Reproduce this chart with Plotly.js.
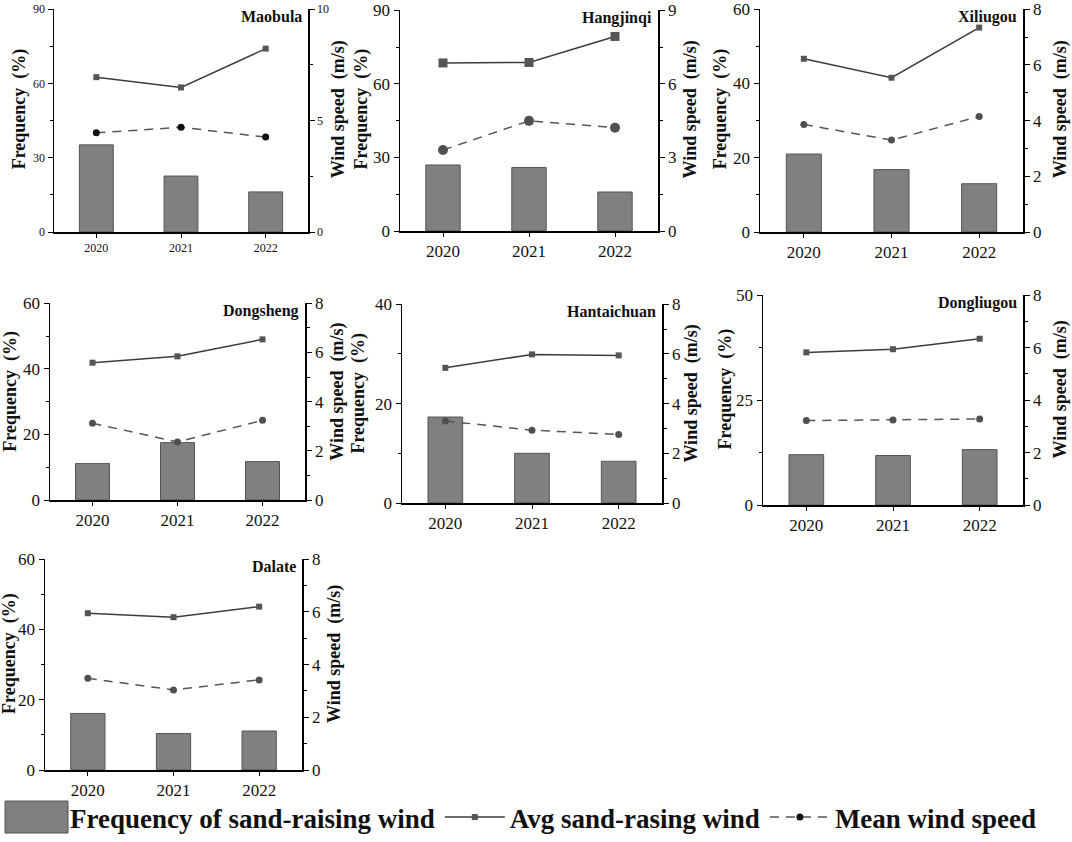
<!DOCTYPE html>
<html>
<head>
<meta charset="utf-8">
<script src="https://cdn.plot.ly/plotly-3.0.1.min.js"></script>
<style>
html,body{margin:0;padding:0;background:#fff;}
#chart{width:1072px;height:842px;}
</style>
</head>
<body>
<div id="chart"></div>
<script>
// ---------------- data ----------------
const years = ['2020', '2021', '2022'];
const stations = ['Maobula', 'Hangjinqi', 'Xiliugou', 'Dongsheng', 'Hantaichuan', 'Dongliugou', 'Dalate'];

// Frequency of sand-raising wind (%)
const frequency = [
  [35.2, 22.6, 16.2],
  [26.9, 25.9, 15.9],
  [21.0, 16.8, 13.0],
  [11.1, 17.5, 11.7],
  [17.3, 10.0, 8.4],
  [12.0, 11.8, 13.2],
  [16.1, 10.4, 11.1]
];
// Avg sand-raising wind speed (m/s)
const avgSandWind = [
  [6.95, 6.49, 8.23],
  [6.85, 6.87, 7.93],
  [6.22, 5.54, 7.34],
  [5.58, 5.84, 6.53],
  [5.44, 5.98, 5.94],
  [5.82, 5.94, 6.34],
  [5.95, 5.80, 6.20]
];
// Mean wind speed (m/s)
const meanWind = [
  [4.45, 4.70, 4.26],
  [3.30, 4.49, 4.21],
  [3.86, 3.30, 4.15],
  [3.12, 2.36, 3.24],
  [3.30, 2.93, 2.76],
  [3.22, 3.24, 3.28],
  [3.48, 3.04, 3.42]
];
// axis scales per station
const freqMax = [90, 90, 60, 60, 40, 50, 60];
const freqStep = [30, 30, 20, 20, 20, 25, 20];
const windMax = [10, 9, 8, 8, 8, 8, 8];
const windStep = [5, 3, 2, 2, 2, 2, 2];

const legendNames = ['Frequency of sand-raising wind', 'Avg sand-rasing wind', 'Mean wind speed'];
const leftTitle = 'Frequency\u2002(%)';
const rightTitle = 'Wind speed\u2002(m/s)';

// ---------------- layout geometry (pixels) ----------------
const W = 1072, H = 842;
const boxes = [
  [54, 308, 9, 232],
  [400, 658, 10, 231],
  [760, 1023, 9, 232],
  [50, 305, 303, 500],
  [402, 662, 304, 503],
  [763, 1023, 295, 505],
  [45, 302, 559, 770]
];
const leftTitleX = [19, 361, 720, 11, 359, 725, 10];
const rightTitleX = [338, 690, 1060, 338, 692, 1060, 335];
const tickSize = [12, 17, 17, 17, 17, 17, 17];

const FONT = 'Liberation Serif';
const traces = [];
const layout = {
  width: W, height: H,
  margin: {l: 0, r: 0, t: 0, b: 0},
  paper_bgcolor: '#fff', plot_bgcolor: 'rgba(0,0,0,0)',
  font: {family: FONT, color: '#111'},
  showlegend: true,
  legend: {
    orientation: 'h', x: 0.0, y: 0.0, xanchor: 'left', yanchor: 'bottom',
    font: {family: FONT, size: 27, weight: 'bold', color: '#111'},
    itemwidth: 60, tracegroupgap: 0, bgcolor: 'rgba(0,0,0,0)'
  },
  annotations: []
};

stations.forEach((name, i) => {
  const k = i + 1;
  const xId = k === 1 ? 'x' : 'x' + k;
  const yL = 2 * k - 1, yR = 2 * k;
  const yLId = yL === 1 ? 'y' : 'y' + yL;
  const yRId = 'y' + yR;
  const [x0, x1, top, bot] = boxes[i];
  const fs = tickSize[i];
  const show = i === 0;

  traces.push({
    type: 'bar', x: years, y: frequency[i], xaxis: xId, yaxis: yLId,
    width: 0.4, name: legendNames[0], showlegend: show, legendrank: 1,
    marker: {color: '#808080', line: {color: '#555555', width: 1}}
  });
  traces.push({
    type: 'scatter', mode: 'lines+markers', x: years, y: avgSandWind[i], xaxis: xId, yaxis: yRId,
    name: legendNames[1], showlegend: show, legendrank: 2,
    line: {color: '#3c3c3c', width: 1.5},
    marker: {symbol: 'square', size: i === 1 ? 9 : 6, color: '#555555'}
  });
  traces.push({
    type: 'scatter', mode: 'lines+markers', x: years, y: meanWind[i], xaxis: xId, yaxis: yRId,
    name: legendNames[2], showlegend: show, legendrank: 3,
    line: {color: '#555555', width: 1.5, dash: '9px,7px'},
    marker: {symbol: 'circle', size: i === 1 ? 10 : 7, color: i === 0 ? '#111' : '#505050'}
  });

  const xd = [x0 / W, x1 / W];
  const yd = [1 - bot / H, 1 - top / H];
  const axFont = {family: FONT, size: fs, color: '#111'};
  layout['xaxis' + (k === 1 ? '' : k)] = {
    domain: xd, anchor: yLId, type: 'category', range: [-0.5, 2.5],
    showline: true, linecolor: '#000', linewidth: 1.5, ticks: 'outside', ticklen: 4,
    tickcolor: '#000', tickfont: axFont, showgrid: false, zeroline: false, fixedrange: true
  };
  layout['yaxis' + (yL === 1 ? '' : yL)] = {
    domain: yd, anchor: xId, range: [0, freqMax[i] * 1.001], dtick: freqStep[i], tick0: 0,
    showline: true, linecolor: '#000', linewidth: 1.5, ticks: 'outside', ticklen: 5,
    tickcolor: '#000', tickfont: axFont, showgrid: false, zeroline: false,
    minor: {dtick: freqStep[i] / 2, ticks: 'outside', ticklen: 3, tickcolor: '#000', showgrid: false}
  };
  layout['yaxis' + yR] = {
    overlaying: yLId, side: 'right', anchor: xId, range: [0, windMax[i] * 1.001], dtick: windStep[i], tick0: 0,
    showline: true, linecolor: '#000', linewidth: 1.5, ticks: 'outside', ticklen: 5,
    tickcolor: '#000', tickfont: axFont, showgrid: false, zeroline: false,
    minor: {dtick: windStep[i] / 2, ticks: 'outside', ticklen: 3, tickcolor: '#000', showgrid: false}
  };
  // station label
  layout.annotations.push({
    xref: xId + ' domain', yref: yLId + ' domain', x: 0.985, y: 1.0,
    xanchor: 'right', yanchor: 'top', yshift: 3, showarrow: false,
    text: '<b>' + name + '</b>', font: {family: FONT, size: 16, color: '#111'}
  });
  // axis titles
  layout.annotations.push({
    xref: 'paper', yref: yLId + ' domain', x: leftTitleX[i] / W, y: 0.55,
    xanchor: 'center', yanchor: 'middle', textangle: -90, showarrow: false,
    text: '<b>' + leftTitle + '</b>', font: {family: FONT, size: 18, color: '#111'}
  });
  layout.annotations.push({
    xref: 'paper', yref: yLId + ' domain', x: rightTitleX[i] / W, y: 0.55,
    xanchor: 'center', yanchor: 'middle', textangle: -90, showarrow: false,
    text: '<b>' + rightTitle + '</b>', font: {family: FONT, size: 18, color: '#111'}
  });
});

Plotly.newPlot('chart', traces, layout, {staticPlot: true}).then(gd => {
  // enlarge the bar swatch in the legend to match the reference's large grey box
  gd.querySelectorAll('.legend .legendpoints path').forEach(p => {
    if (p.getAttribute('d') === 'M6,6H-6V-6H6Z') p.setAttribute('d', 'M33,16H-30V-16H33Z');
  });
});
</script>
</body>
</html>
